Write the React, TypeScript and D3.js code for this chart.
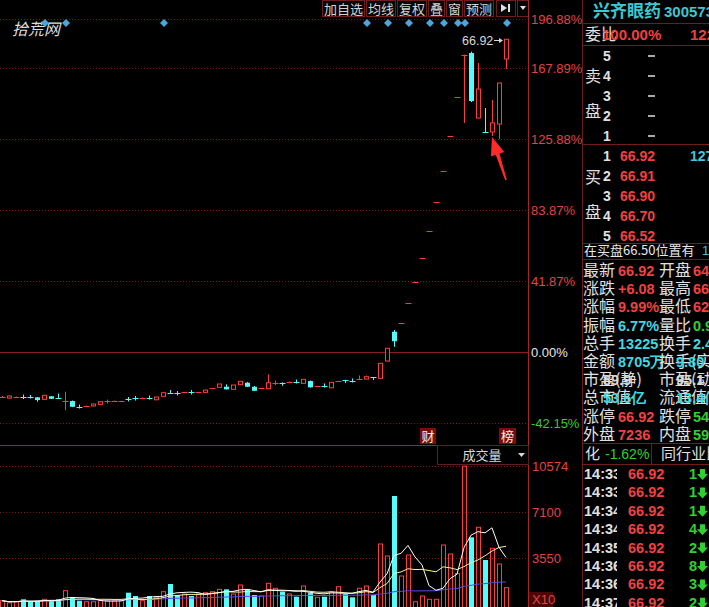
import React from 'react';
import * as d3 from 'd3';

const W = 709;
const H = 607;

// daily candles (price)
const opens = [17.23,17.09,17.23,17.30,17.30,17.19,16.91,17.33,17.05,16.61,16.67,15.91,16.00,16.00,16.22,16.61,16.67,16.64,16.92,17.06,17.09,17.15,16.85,17.33,17.86,17.76,17.86,17.90,17.87,17.88,18.41,18.58,18.66,18.30,18.94,19.22,18.66,18.41,18.38,19.20,19.24,19.34,19.37,19.13,19.45,18.73,18.81,18.52,19.42,19.61,19.51,19.76,19.73,19.98,19.83,22.23,26.30,27.48,30.23,33.25,36.57,40.23,44.26,48.68,53.55,58.90,64.79,65.01,55.98,54.10,54.04,55.15,64.18];
const highs = [17.37,17.44,17.30,17.58,17.51,17.23,17.51,17.37,17.72,17.97,16.74,16.19,16.05,16.33,16.61,16.88,16.74,16.71,17.23,17.37,17.16,17.44,17.23,17.86,18.20,18.06,17.92,18.20,17.92,18.23,18.48,19.04,18.99,18.90,19.41,19.31,18.76,18.48,20.38,19.52,19.27,19.38,19.66,19.73,19.52,18.79,19.11,19.31,19.48,19.62,19.80,20.22,20.22,20.01,21.95,24.04,26.54,27.48,30.23,33.25,36.57,40.23,44.26,48.68,53.55,58.90,64.79,65.20,63.62,57.37,58.48,60.84,66.92];
const lows = [17.16,17.02,17.16,16.95,17.02,16.58,16.88,16.95,16.95,15.42,15.84,15.63,15.91,15.91,16.19,16.33,16.61,16.61,16.61,16.74,17.02,16.88,16.81,17.30,17.79,17.44,17.79,17.58,17.81,17.86,18.34,18.55,18.27,18.27,18.90,18.62,18.06,18.34,18.34,18.90,18.80,19.27,19.11,19.11,18.55,18.69,18.55,18.48,19.38,19.17,19.24,19.73,19.66,19.59,19.80,22.16,24.22,27.48,30.23,33.25,36.57,40.23,44.26,48.68,53.55,58.90,55.29,58.20,55.90,54.01,53.48,53.07,62.79];
const closes = [17.30,17.37,17.27,17.23,17.23,16.81,17.47,16.99,16.99,16.74,15.88,15.87,16.04,16.26,16.58,16.65,16.73,16.69,16.90,17.04,17.13,17.12,17.23,17.83,17.81,17.73,17.90,17.87,17.90,18.20,18.44,19.04,18.30,18.90,19.41,18.66,18.10,18.45,19.22,19.23,19.20,19.37,19.34,19.69,18.58,18.76,18.79,19.27,19.45,19.58,19.48,19.79,20.05,19.95,21.91,24.00,24.98,27.48,30.23,33.25,36.57,40.23,44.26,48.68,53.55,58.90,64.79,58.34,60.01,54.01,55.31,60.84,66.92];
// volume, units of 10 lots
const volumes = [328,175,251,434,251,328,434,328,434,1090,587,328,251,251,328,328,328,328,937,686,328,686,587,1013,1600,762,838,686,838,937,1013,1196,1196,838,1524,1196,762,686,1653,1272,1013,838,632,1447,937,587,632,1013,1394,838,587,1272,1447,762,4647,3733,8303,2209,3809,251,686,434,434,4571,3885,2407,10574,5157,5919,3428,4319,3123,1323];
const markerDays = [6, 9, 23, 52, 55, 58, 61, 63, 65, 66, 72];
const pctTicks = [196.88, 167.89, 125.88, 83.87, 41.87, 0, -42.15];
const volTicks = [10574, 7100, 3550];
const basePrice = 23.48;
const lastPrice = 66.92;
const toolbarItems = ['加自选', '均线', '复权', '叠', '窗', '预测'];

const stockName = '兴齐眼药';
const stockCode = '300573';
const sellLevels = ['5', '4', '3', '2', '1'];
const buyLevels = ['1', '2', '3', '4', '5'];
const buyPrices = ['66.92', '66.91', '66.90', '66.70', '66.52'];
const buyVols = ['1271', '', '', '', ''];
const statsLeft = [
  ['最新', '66.92', 'r'], ['涨跌', '+6.08', 'r'], ['涨幅', '9.99%', 'r'], ['振幅', '6.77%', 'c'], ['总手', '13225', 'c'],
  ['金额', '8705万', 'c'], ['市盈(静)', '89.9', 'w'], ['总市值', '53.6亿', 'c'], ['涨停', '66.92', 'r'], ['外盘', '7236', 'r'],
];
const statsRight = [
  ['开盘', '64.18', 'r'], ['最高', '66.92', 'r'], ['最低', '62.79', 'r'], ['量比', '0.92', 'g'], ['换手', '2.45', 'c'],
  ['换手(实)', '9.80', 'c'], ['市盈(动)', '95.1', 'w'], ['流通值', '13.4亿', 'c'], ['跌停', '54.76', 'g'], ['内盘', '5989', 'g'],
];
const tickTimes = ['14:33', '14:33', '14:34', '14:34', '14:35', '14:36', '14:36', '14:37'];
const tickPrices = ['66.92', '66.92', '66.92', '66.92', '66.92', '66.92', '66.92', '66.92'];
const tickVols = ['1', '1', '1', '4', '2', '8', '3', '2'];

const RED = '#ff3c3c';
const CYAN = '#54fcfc';
const GRID = '#7a1616';
const AXIS = '#a82424';
const LBL_RED = '#e04444';
const BORDER = '#6e1c1c';
const CJK = "'Noto Sans CJK SC', 'Noto Sans', sans-serif";
const NUM = "'Liberation Sans', Arial, sans-serif";

function movingAvg(arr: number[], n: number) {
  return arr.map((_, i) => d3.mean(arr.slice(Math.max(0, i - n + 1), i + 1)) as number);
}

const colorOf = (c: string) => (c === 'r' ? '#f04040' : c === 'c' ? '#40d8e0' : c === 'g' ? '#30d030' : '#d8d8d8');

export default function App() {
  const n = opens.length;
  const x = d3.scaleLinear().domain([0, n - 1]).range([2, 506]);
  const y = d3
    .scaleLinear()
    .domain([basePrice * (1 + pctTicks[6] / 100), basePrice * (1 + pctTicks[0] / 100)])
    .range([423.3, 19.2]);
  const yv = d3.scaleLinear().domain([0, volTicks[0]]).range([605, 466.2]);

  const ma5 = movingAvg(volumes, 5);
  const ma10 = movingAvg(volumes, 10);
  const ma60 = movingAvg(volumes, 60);
  const line = d3
    .line<number>()
    .x((_, i) => x(i))
    .y((d) => yv(d));

  const candles = opens.map((o, i) => {
    const c = closes[i];
    const up = c >= o;
    const cx = Math.round(x(i)) + 0.5;
    const yo = y(o);
    const yc = y(c);
    const yh = y(highs[i]);
    const yl = y(lows[i]);
    const top = Math.min(yo, yc);
    const bot = Math.max(yo, yc);
    const col = up ? RED : CYAN;
    const flat = bot - top < 1.2;
    return (
      <g key={i}>
        <line x1={cx} x2={cx} y1={yh} y2={yl} stroke={col} strokeWidth={1} />
        {flat ? (
          <line x1={cx - 3} x2={cx + 3} y1={Math.round(top) + 0.5} y2={Math.round(top) + 0.5} stroke={col} strokeWidth={1} />
        ) : up ? (
          <rect x={cx - 2} y={top} width={4} height={bot - top} fill="#000" stroke={col} strokeWidth={1} />
        ) : (
          <rect x={cx - 2.5} y={top} width={5} height={bot - top} fill={col} />
        )}
      </g>
    );
  });

  const volBars = volumes.map((v, i) => {
    const up = closes[i] >= opens[i];
    const cx = Math.round(x(i)) + 0.5;
    const top = yv(v);
    return up ? (
      <rect key={i} x={cx - 2} y={top} width={4} height={605 - top + 3} fill="none" stroke={RED} strokeWidth={1} />
    ) : (
      <rect key={i} x={cx - 2.5} y={top} width={5} height={607 - top} fill={CYAN} />
    );
  });

  // toolbar layout
  let tx = 322;
  const toolbar = toolbarItems.map((t) => {
    const w = t.length * 13 + 3;
    const el = (
      <g key={t}>
        <rect x={tx + 0.5} y={0.5} width={w} height={16} fill="#050505" stroke={BORDER} />
        <text x={tx + w / 2 + 0.5} y={13.5} textAnchor="middle" fill="#d4d4d4" fontSize={13} fontFamily={CJK}>
          {t}
        </text>
      </g>
    );
    tx += w + 2;
    return el;
  });

  const rowY0 = 276;
  const rowH = 18.2;

  // red arrow annotation
  const arrowPts = '492,137 504.3,152 499.5,153.6 506.8,179.8 505.2,180.2 495.7,154.8 490.9,156.4';

  return (
    <div style={{ position: 'absolute', left: 0, top: 0 }}>
      <svg width={W} height={H} viewBox={`0 0 ${W} ${H}`} style={{ display: 'block', background: '#000' }}>
        <rect x={0} y={0} width={W} height={H} fill="#000" />
        <defs>
          <clipPath id="mainclip">
            <rect x={0} y={0} width={528} height={H} />
          </clipPath>
          <clipPath id="timeclip">
            <rect x={583} y={464} width={34} height={143} />
          </clipPath>
          <clipPath id="panelclip">
            <rect x={583} y={0} width={126} height={H} />
          </clipPath>
        </defs>

        {/* price grid */}
        {pctTicks.map((p) => {
          const yy = Math.round(y(basePrice * (1 + p / 100))) + 0.5;
          return (
            <line key={p} x1={0} x2={528} y1={yy} y2={yy} stroke={p === 0 ? '#8a1c1c' : GRID} strokeDasharray={p === 0 ? undefined : '1,2'} />
          );
        })}
        {pctTicks.map((p) => {
          const yy = y(basePrice * (1 + p / 100));
          const col = p > 0 ? LBL_RED : p === 0 ? '#e6e6e6' : '#3cc83c';
          return (
            <text key={'l' + p} x={531} y={yy + 5} fill={col} fontSize={13} fontFamily={NUM}>
              {p.toFixed(2) + '%'}
            </text>
          );
        })}

        {/* watermark */}
        <text x={12} y={35} fill="#dcdcdc" fontSize={16} fontStyle="italic" fontFamily={CJK}>
          拾荒网
        </text>

        {/* info markers */}
        {markerDays.map((d) => {
          const cx = x(d) + 1;
          return <path key={'m' + d} d={`M${cx},${19} L${cx + 4},${23} L${cx},${27} L${cx - 4},${23} Z`} fill="#4aa6dc" />;
        })}

        {/* candles */}
        <g clipPath="url(#mainclip)">{candles}</g>

        {/* last price label */}
        <text x={462} y={45} fill="#d8d8d8" fontSize={12.5} fontFamily={NUM}>
          {lastPrice.toFixed(2)}
        </text>
        <line x1={494} x2={502} y1={40.5} y2={40.5} stroke="#d8d8d8" />
        <path d="M503,40.5 L499,38 L499,43 Z" fill="#d8d8d8" />

        {/* red arrow */}
        <polygon points={arrowPts} fill="#ff2a2a" />

        {/* toolbar */}
        {toolbar}
        <rect x={496.5} y={0.5} width={19} height={16} fill="#050505" stroke={BORDER} />
        <path d="M501,4 L507,8 L501,12 Z" fill="#e0e0e0" />
        <rect x={508} y={4} width={2} height={8} fill="#e0e0e0" />
        <rect x={517.5} y={0.5} width={11} height={16} fill="#050505" stroke={BORDER} />
        <path d="M520,6 L526,6 L523,10 Z" fill="#e0e0e0" />

        {/* axis line */}
        <line x1={528.5} x2={528.5} y1={0} y2={H} stroke={AXIS} />

        {/* 财 / 榜 tags */}
        <rect x={420} y={428} width={16} height={16} fill="#7a0c0c" />
        <text x={428} y={441} textAnchor="middle" fill="#f0f0f0" fontSize={13} fontFamily={CJK}>
          财
        </text>
        <rect x={499} y={428} width={17} height={16} fill="#7a0c0c" />
        <text x={507.5} y={441} textAnchor="middle" fill="#f0f0f0" fontSize={13} fontFamily={CJK}>
          榜
        </text>

        {/* volume panel */}
        <line x1={0} x2={528} y1={445.5} y2={445.5} stroke={AXIS} />
        {volTicks.map((v) => {
          const yy = Math.round(yv(v)) + 0.5;
          return <line key={'vg' + v} x1={0} x2={528} y1={yy} y2={yy} stroke={GRID} strokeDasharray="1,2" />;
        })}
        {volTicks.map((v) => (
          <text key={'vl' + v} x={532} y={yv(v) + 5} fill={LBL_RED} fontSize={13} fontFamily={NUM}>
            {v}
          </text>
        ))}
        <rect x={529} y={592} width={24} height={15} fill="#4a0808" />
        <text x={532} y={604} fill={LBL_RED} fontSize={13} fontFamily={NUM}>
          X10
        </text>
        <g clipPath="url(#mainclip)">
          {volBars}
          <path d={line(ma60) || ''} fill="none" stroke="#5a4ee0" strokeWidth={1} />
          <path d={line(ma10) || ''} fill="none" stroke="#f4f0a0" strokeWidth={1} />
          <path d={line(ma5) || ''} fill="none" stroke="#ffffff" strokeWidth={1} />
        </g>
        <rect x={437.5} y={445.5} width={91} height={19} fill="#000" stroke="#5a2020" />
        <text x={482} y={460} textAnchor="middle" fill="#d8d8d8" fontSize={13} fontFamily={CJK}>
          成交量
        </text>
        <path d="M518,453 L525,453 L521.5,457 Z" fill="#d8d8d8" />

        {/* right panel */}
        <line x1={582.5} x2={582.5} y1={0} y2={H} stroke={BORDER} />
        <g clipPath="url(#panelclip)">
          <text x={593} y={17} fill="#3cc8d2" fontSize={17} fontWeight="bold" fontFamily={CJK}>
            {stockName}
          </text>
          <text x={664} y={17} fill="#3cc8d2" fontSize={15} fontWeight="bold" fontFamily={NUM}>
            {stockCode}
          </text>
          {[23, 45, 144, 243, 259, 443, 464].map((yy) => (
            <line key={'h' + yy} x1={582} x2={709} y1={yy + 0.5} y2={yy + 0.5} stroke={BORDER} />
          ))}
          <text x={585} y={40} fill="#e0e0e0" fontSize={16} fontFamily={CJK}>
            委比
          </text>
          <text x={602} y={40} fill="#f04040" fontSize={15} fontWeight="bold" fontFamily={NUM}>
            100.00%
          </text>
          <text x={690} y={40} fill="#f04040" fontSize={15} fontWeight="bold" fontFamily={NUM}>
            12286
          </text>
          {/* sell side */}
          <text x={585} y={82} fill="#e0e0e0" fontSize={16} fontFamily={CJK}>
            卖
          </text>
          <text x={585} y={117} fill="#e0e0e0" fontSize={16} fontFamily={CJK}>
            盘
          </text>
          {sellLevels.map((l, i) => (
            <g key={'s' + l}>
              <text x={603} y={61 + i * 20} fill="#e0e0e0" fontSize={14} fontWeight="bold" fontFamily={NUM}>
                {l}
              </text>
              <line x1={648} x2={655} y1={56 + i * 20} y2={56 + i * 20} stroke="#e0e0e0" strokeWidth={1.5} />
            </g>
          ))}
          {/* buy side */}
          <text x={585} y={183} fill="#e0e0e0" fontSize={16} fontFamily={CJK}>
            买
          </text>
          <text x={585} y={218} fill="#e0e0e0" fontSize={16} fontFamily={CJK}>
            盘
          </text>
          {buyLevels.map((l, i) => (
            <g key={'b' + l}>
              <text x={603} y={161 + i * 20} fill="#e0e0e0" fontSize={14} fontWeight="bold" fontFamily={NUM}>
                {l}
              </text>
              <text x={620} y={161 + i * 20} fill="#f04040" fontSize={14} fontWeight="bold" fontFamily={NUM}>
                {buyPrices[i]}
              </text>
              <text x={690} y={161 + i * 20} fill="#40c8d8" fontSize={14} fontWeight="bold" fontFamily={NUM}>
                {buyVols[i]}
              </text>
            </g>
          ))}
          <text x={584} y={255} fill="#e8e8e8" fontSize={13} fontFamily={CJK}>
            在买盘66.50位置有
          </text>
          <text x={702} y={255} fill="#40c8d8" fontSize={13} fontFamily={NUM}>
            1
          </text>
          {/* stats */}
          {statsLeft.map((r, i) => (
            <g key={'sl' + i}>
              <text x={583} y={rowY0 + i * rowH} fill="#e0e0e0" fontSize={16} fontFamily={CJK}>
                {r[0]}
              </text>
              <text x={r[0].length > 2 ? 603 : 618} y={rowY0 + i * rowH} fill={colorOf(r[2])} fontSize={14.5} fontWeight="bold" fontFamily={NUM}>
                {r[1]}
              </text>
            </g>
          ))}
          {statsRight.map((r, i) => (
            <g key={'sr' + i}>
              <text x={659} y={rowY0 + i * rowH} fill="#e0e0e0" fontSize={16} fontFamily={CJK}>
                {r[0]}
              </text>
              <text x={r[0].length > 2 ? 676 : 693} y={rowY0 + i * rowH} fill={colorOf(r[2])} fontSize={14.5} fontWeight="bold" fontFamily={NUM}>
                {r[1]}
              </text>
            </g>
          ))}
          {/* industry row */}
          <text x={585} y={459} fill="#e0e0e0" fontSize={15} fontFamily={CJK}>
            化
          </text>
          <text x={605} y={459} fill="#30d030" fontSize={14} fontFamily={NUM}>
            -1.62%
          </text>
          <line x1={651.5} x2={651.5} y1={443} y2={464} stroke={BORDER} />
          <text x={661} y={459} fill="#e0e0e0" fontSize={15} fontFamily={CJK}>
            同行业比
          </text>
          {/* ticks */}
          {tickTimes.map((t, i) => (
            <g key={'t' + i}>
              <text x={584} y={479 + i * 18.4} fill="#e0e0e0" fontSize={14.5} fontWeight="bold" fontFamily={NUM} clipPath="url(#timeclip)">
                {t}
              </text>
              <text x={628} y={479 + i * 18.4} fill="#f04040" fontSize={14.5} fontWeight="bold" fontFamily={NUM}>
                {tickPrices[i]}
              </text>
              <text x={689} y={479 + i * 18.4} fill="#30d030" fontSize={14.5} fontWeight="bold" fontFamily={NUM}>
                {tickVols[i]}
              </text>
              <path
                d={`M700,${469 + i * 18.4} h5 v5 h3 l-5.5,6 l-5.5,-6 h3 Z`}
                fill="#30d030"
              />
            </g>
          ))}
        </g>
      </svg>
    </div>
  );
}
